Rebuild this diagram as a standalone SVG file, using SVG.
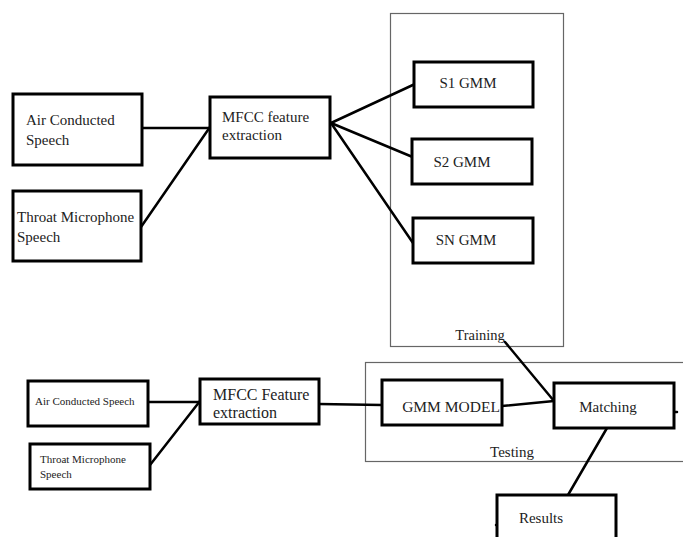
<svg xmlns="http://www.w3.org/2000/svg" width="683" height="537" viewBox="0 0 683 537">
<style>
.box{fill:#fff;stroke:#000;stroke-width:3}
.frame{fill:none;stroke:#666;stroke-width:1.2}
.t{font-family:"Liberation Serif","Times New Roman",serif;fill:#222;font-size:15px}
.s{font-size:11px}
.m{font-size:16px}
#connectors line{stroke:#000;stroke-width:2.5;stroke-linecap:round}
</style>
<rect width="683" height="537" fill="#fff"/>
<g id="training">
<rect class="frame" x="390.5" y="13.5" width="173" height="333"/>
<text class="t" x="480" y="340" text-anchor="middle" style="font-size:14.5px">Training</text>
</g>
<g id="testing">
<rect class="frame" x="365.5" y="362.5" width="330" height="99"/>
<text class="t" x="512" y="457" text-anchor="middle">Testing</text>
</g>
<g id="connectors">
<line x1="142" y1="128" x2="210" y2="128"/>
<line x1="141" y1="227" x2="210" y2="127"/>
<line x1="331" y1="123" x2="415" y2="84"/>
<line x1="331" y1="123" x2="415" y2="158"/>
<line x1="331" y1="123" x2="413" y2="243"/>
<line x1="148" y1="402" x2="200" y2="402"/>
<line x1="150" y1="465" x2="200" y2="401"/>
<line x1="319" y1="404" x2="382" y2="405"/>
<line x1="502" y1="406" x2="554" y2="401"/>
<line x1="505" y1="342" x2="554" y2="401"/>
<line x1="607" y1="428" x2="568" y2="495"/>
<line x1="674" y1="412" x2="677" y2="412"/>
<line x1="496" y1="525" x2="499" y2="525"/>
</g>
<g id="air1">
<rect class="box" x="13" y="94" width="129" height="71"/>
<text class="t" x="26" y="125">Air Conducted</text>
<text class="t" x="26" y="145">Speech</text>
</g>
<g id="throat1">
<rect class="box" x="13" y="191" width="128" height="70"/>
<text class="t" x="17" y="222">Throat Microphone</text>
<text class="t" x="17" y="242">Speech</text>
</g>
<g id="mfcc1">
<rect class="box" x="210" y="97" width="120" height="61"/>
<text class="t" x="222" y="122">MFCC feature</text>
<text class="t" x="222" y="140">extraction</text>
</g>
<g id="s1">
<rect class="box" x="414" y="62" width="119" height="45"/>
<text class="t" x="468" y="88" text-anchor="middle">S1 GMM</text>
</g>
<g id="s2">
<rect class="box" x="412" y="139" width="120" height="45"/>
<text class="t" x="462" y="167" text-anchor="middle">S2 GMM</text>
</g>
<g id="sn">
<rect class="box" x="413" y="218" width="120" height="45"/>
<text class="t" x="466" y="245" text-anchor="middle">SN GMM</text>
</g>
<g id="air2">
<rect class="box" x="28" y="381" width="120" height="45"/>
<text class="t s" x="35" y="405">Air Conducted Speech</text>
</g>
<g id="throat2">
<rect class="box" x="30" y="444" width="120" height="45"/>
<text class="t s" x="40" y="463">Throat Microphone</text>
<text class="t s" x="40" y="478">Speech</text>
</g>
<g id="mfcc2">
<rect class="box" x="200" y="379" width="119" height="45"/>
<text class="t m" x="213" y="400">MFCC Feature</text>
<text class="t m" x="213" y="418">extraction</text>
</g>
<g id="gmm">
<rect class="box" x="382" y="380" width="120" height="45"/>
<text class="t" x="451" y="412" text-anchor="middle" style="font-size:15.5px">GMM MODEL</text>
</g>
<g id="matching">
<rect class="box" x="554" y="383" width="120" height="45"/>
<text class="t" x="608" y="412" text-anchor="middle">Matching</text>
</g>
<g id="results">
<rect class="box" x="497" y="495" width="119" height="50"/>
<text class="t" x="541" y="523" text-anchor="middle">Results</text>
</g>
</svg>
